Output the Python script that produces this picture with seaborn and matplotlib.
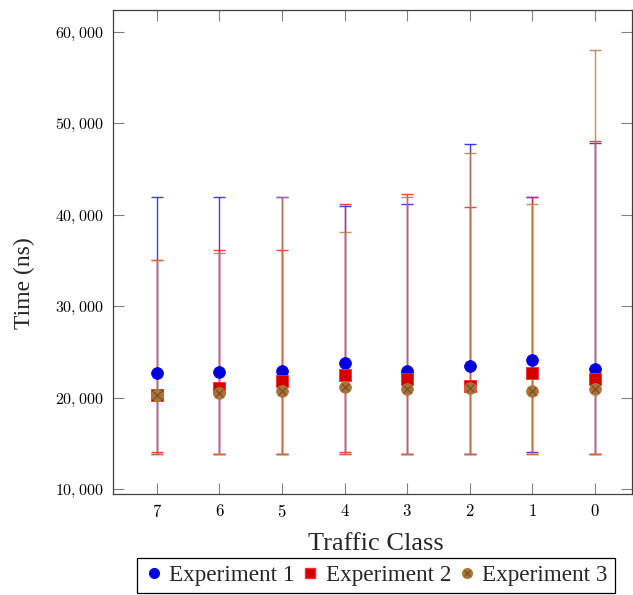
import numpy as np
import pandas as pd
import matplotlib
matplotlib.use("Agg")
import matplotlib.pyplot as plt
import seaborn as sns
from matplotlib.lines import Line2D

# ---- data ----
classes = ["7", "6", "5", "4", "3", "2", "1", "0"]
exp1_mean = [22720, 22830, 22940, 23790, 22940, 23420, 24060, 23080]
exp1_min = [13800, 13800, 13800, 13800, 13800, 13800, 14080, 13800]
exp1_max = [41950, 41950, 41950, 40930, 41150, 47780, 41950, 47820]
exp2_mean = [20280, 21010, 21850, 22440, 22030, 21270, 22720, 22030]
exp2_min = [14080, 13800, 13800, 14080, 13800, 13800, 13800, 13800]
exp2_max = [35000, 36100, 36100, 41150, 42240, 40890, 41910, 48040]
exp3_mean = [20280, 20540, 20690, 21130, 20940, 21050, 20690, 20980]
exp3_min = [13800, 13800, 13800, 13800, 13800, 13800, 13800, 13800]
exp3_max = [35050, 35800, 41950, 38100, 41950, 46800, 41150, 58030]
series_names = ["Experiment 1", "Experiment 2", "Experiment 3"]
y_ticks = [10000, 20000, 30000, 40000, 50000, 60000]

sns.set_theme(style="ticks")
plt.rcParams["font.family"] = ["Liberation Serif", "DejaVu Serif"]
plt.rcParams["mathtext.fontset"] = "cm"

fig = plt.figure(figsize=(6.33, 5.95), dpi=100)
ax = fig.add_axes([113 / 633, 1 - 494 / 595, (632 - 113) / 633, (494 - 10) / 595])

pos = np.arange(len(classes))
series = [
    (exp1_mean, exp1_min, exp1_max),
    (exp2_mean, exp2_min, exp2_max),
    (exp3_mean, exp3_min, exp3_max),
]
line_colors = ["#1a1aff", "#ff2020", "#c27a3e"]
fill_colors = ["#0000d8", "#d40000", "#a8733a"]
edge_colors = ["#0000ff", "#ff2a2a", "#b07a40"]
markers = ["o", "s", "o"]

for (m, lo, hi), lc in zip(series, line_colors):
    m = np.array(m); lo = np.array(lo); hi = np.array(hi)
    ax.errorbar(pos, m, yerr=[m - lo, hi - m], fmt="none", ecolor=lc,
                elinewidth=1.0, capsize=4, capthick=1.0, alpha=0.85, zorder=2)

for (m, lo, hi), fc, ec, mk, name in zip(series, fill_colors, edge_colors, markers, series_names):
    df = pd.DataFrame({"Class": classes, "Time": m})
    sns.scatterplot(data=df, x="Class", y="Time", ax=ax, color=fc, marker=mk,
                    s=72, edgecolor=ec, linewidth=0.6, zorder=5, legend=False)

# cross inside brown markers
df3 = pd.DataFrame({"Class": classes, "Time": exp3_mean})
sns.scatterplot(data=df3, x="Class", y="Time", ax=ax, color="#7a4a1e", marker="x",
                s=30, linewidth=0.8, zorder=6, legend=False)

ax.set_xlim(-0.70, 7.59)
ax.set_ylim(9450, 62400)
ax.set_xticks(pos, [f"${c}$" for c in classes], fontsize=12)
ax.set_yticks(y_ticks, [f"${v:,}$" for v in y_ticks], fontsize=11.5)

ax.tick_params(direction="in", length=8, width=0.8, color="#808080",
               top=True, right=True, pad=7, labelcolor="black")
for sp in ax.spines.values():
    sp.set_color("#404040")
    sp.set_linewidth(0.9)

ax.set_xlabel("Traffic Class", fontsize=19, va="center")
ax.set_ylabel("Time (ns)", fontsize=17, va="center")
ax.xaxis.set_label_coords((376 - 113) / 519, (494 - 544) / 484)
ax.yaxis.set_label_coords((24 - 113) / 519, (494 - 283) / 484)

handles = [
    Line2D([], [], marker="o", linestyle="none", markersize=7,
           markerfacecolor=fill_colors[0], markeredgecolor=edge_colors[0]),
    Line2D([], [], marker="s", linestyle="none", markersize=7,
           markerfacecolor=fill_colors[1], markeredgecolor=edge_colors[1]),
    (Line2D([], [], marker="o", linestyle="none", markersize=7,
            markerfacecolor=fill_colors[2], markeredgecolor=edge_colors[2]),
     Line2D([], [], marker="x", linestyle="none", markersize=4,
            markeredgecolor="#7a4a1e", markeredgewidth=0.8)),
]
leg = fig.legend(handles, series_names, loc="upper center",
                 bbox_to_anchor=(376 / 633, 1 - 558 / 595), ncol=3,
                 fontsize=16.7, frameon=True, fancybox=False, framealpha=1,
                 edgecolor="black", handlelength=0.8, handletextpad=0.25,
                 columnspacing=0.3, borderpad=0.3, borderaxespad=0)
leg.get_frame().set_linewidth(0.9)

fig.savefig("out.png", dpi=100)
